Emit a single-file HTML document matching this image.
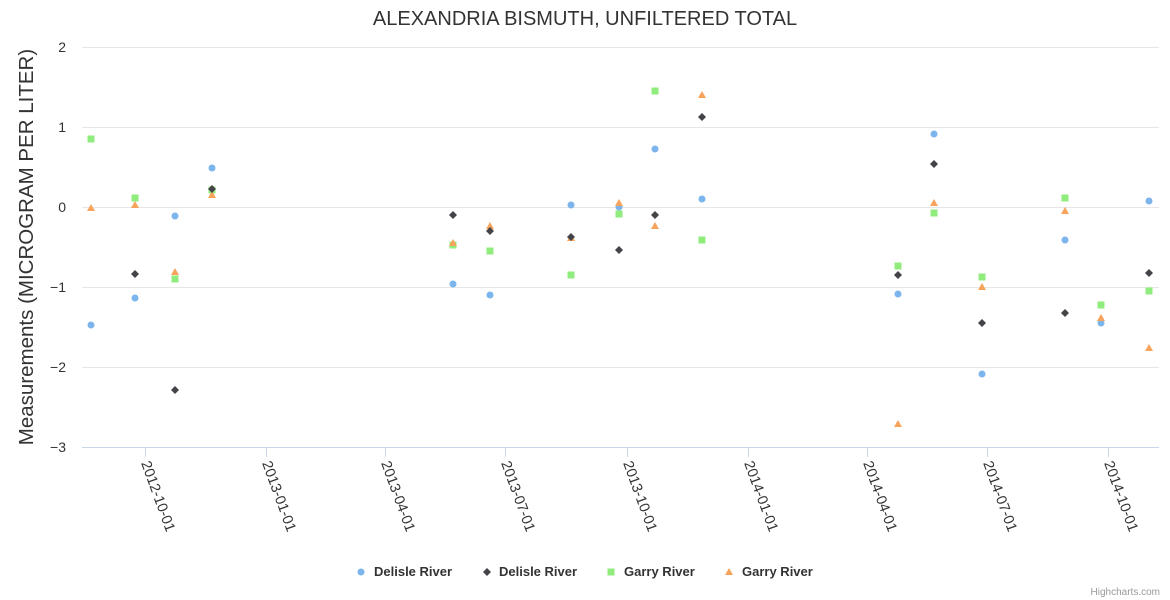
<!DOCTYPE html>
<html><head><meta charset="utf-8"><style>body{margin:0;background:#fff}svg{display:block;font-family:"Liberation Sans",sans-serif}</style></head><body>
<svg width="1170" height="600" viewBox="0 0 1170 600">
<text x="585" y="25" text-anchor="middle" font-size="20" fill="#333">ALEXANDRIA BISMUTH, UNFILTERED TOTAL</text>
<g stroke="#e6e6e6" stroke-width="1">
<line x1="82" y1="47.5" x2="1159" y2="47.5"/><line x1="82" y1="127.5" x2="1159" y2="127.5"/><line x1="82" y1="207.5" x2="1159" y2="207.5"/><line x1="82" y1="287.5" x2="1159" y2="287.5"/><line x1="82" y1="367.5" x2="1159" y2="367.5"/>
</g>
<line x1="82" y1="447.5" x2="1159" y2="447.5" stroke="#ccd6eb"/>
<g stroke="#ccd6eb"><line x1="145.5" y1="447" x2="145.5" y2="457"/><line x1="266.5" y1="447" x2="266.5" y2="457"/><line x1="385.5" y1="447" x2="385.5" y2="457"/><line x1="505.5" y1="447" x2="505.5" y2="457"/><line x1="627.5" y1="447" x2="627.5" y2="457"/><line x1="748.5" y1="447" x2="748.5" y2="457"/><line x1="867.5" y1="447" x2="867.5" y2="457"/><line x1="987.5" y1="447" x2="987.5" y2="457"/><line x1="1108.5" y1="447" x2="1108.5" y2="457"/></g>
<g font-size="14" fill="#333" text-anchor="end">
<text x="66" y="52">2</text><text x="66" y="132">1</text><text x="66" y="212">0</text><text x="66" y="292">−1</text><text x="66" y="372">−2</text><text x="66" y="452">−3</text>
</g>
<text transform="translate(33,247) rotate(-90)" text-anchor="middle" font-size="20.5" fill="#333">Measurements (MICROGRAM PER LITER)</text>
<g font-size="14.5" fill="#333">
<text transform="translate(141,463) rotate(70)">2012-10-01</text>
<text transform="translate(262,463) rotate(70)">2013-01-01</text>
<text transform="translate(381,463) rotate(70)">2013-04-01</text>
<text transform="translate(501,463) rotate(70)">2013-07-01</text>
<text transform="translate(623,463) rotate(70)">2013-10-01</text>
<text transform="translate(744,463) rotate(70)">2014-01-01</text>
<text transform="translate(863,463) rotate(70)">2014-04-01</text>
<text transform="translate(983,463) rotate(70)">2014-07-01</text>
<text transform="translate(1104,463) rotate(70)">2014-10-01</text>
</g>
<g fill="#7cb5ec">
<circle cx="91" cy="325" r="3.5"/><circle cx="135" cy="298" r="3.5"/><circle cx="175" cy="216" r="3.5"/><circle cx="212" cy="168" r="3.5"/><circle cx="453" cy="284" r="3.5"/><circle cx="490" cy="295" r="3.5"/><circle cx="571" cy="205" r="3.5"/><circle cx="619" cy="207" r="3.5"/><circle cx="655" cy="149" r="3.5"/><circle cx="702" cy="199" r="3.5"/><circle cx="898" cy="294" r="3.5"/><circle cx="934" cy="134" r="3.5"/><circle cx="982" cy="374" r="3.5"/><circle cx="1065" cy="240" r="3.5"/><circle cx="1101" cy="323" r="3.5"/><circle cx="1149" cy="201" r="3.5"/>
</g>
<g fill="#90ed7d">
<rect x="87.5" y="135.5" width="7" height="7"/><rect x="131.5" y="194.5" width="7" height="7"/><rect x="171.5" y="275.5" width="7" height="7"/><rect x="208.5" y="186.5" width="7" height="7"/><rect x="449.5" y="241.5" width="7" height="7"/><rect x="486.5" y="247.5" width="7" height="7"/><rect x="567.5" y="271.5" width="7" height="7"/><rect x="615.5" y="210.5" width="7" height="7"/><rect x="651.5" y="87.5" width="7" height="7"/><rect x="698.5" y="236.5" width="7" height="7"/><rect x="894.5" y="262.5" width="7" height="7"/><rect x="930.5" y="209.5" width="7" height="7"/><rect x="978.5" y="273.5" width="7" height="7"/><rect x="1061.5" y="194.5" width="7" height="7"/><rect x="1097.5" y="301.5" width="7" height="7"/><rect x="1145.5" y="287.5" width="7" height="7"/>
</g>
<g fill="#f7a35c">
<path d="M91 204l4 7h-8z"/><path d="M135 201l4 7h-8z"/><path d="M175 268l4 7h-8z"/><path d="M212 191l4 7h-8z"/><path d="M453 239l4 7h-8z"/><path d="M490 222l4 7h-8z"/><path d="M571 234l4 7h-8z"/><path d="M619 199l4 7h-8z"/><path d="M655 222l4 7h-8z"/><path d="M702 91l4 7h-8z"/><path d="M898 420l4 7h-8z"/><path d="M934 199l4 7h-8z"/><path d="M982 283l4 7h-8z"/><path d="M1065 207l4 7h-8z"/><path d="M1101 314l4 7h-8z"/><path d="M1149 344l4 7h-8z"/>
</g>
<g fill="#434348">
<path d="M135 270l4 4-4 4-4-4z"/><path d="M175 386l4 4-4 4-4-4z"/><path d="M212 185l4 4-4 4-4-4z"/><path d="M453 211l4 4-4 4-4-4z"/><path d="M490 227l4 4-4 4-4-4z"/><path d="M571 233l4 4-4 4-4-4z"/><path d="M619 246l4 4-4 4-4-4z"/><path d="M655 211l4 4-4 4-4-4z"/><path d="M702 113l4 4-4 4-4-4z"/><path d="M898 271l4 4-4 4-4-4z"/><path d="M934 160l4 4-4 4-4-4z"/><path d="M982 319l4 4-4 4-4-4z"/><path d="M1065 309l4 4-4 4-4-4z"/><path d="M1149 269l4 4-4 4-4-4z"/>
</g>
<g font-size="13" font-weight="bold" fill="#333">
<circle cx="361" cy="572" r="3.5" fill="#7cb5ec"/><text x="374" y="576">Delisle River</text>
<path d="M487 568l4 4-4 4-4-4z" fill="#434348"/><text x="499" y="576">Delisle River</text>
<rect x="607.5" y="568.5" width="7" height="7" fill="#90ed7d"/><text x="624" y="576">Garry River</text>
<path d="M729 568l4 7h-8z" fill="#f7a35c"/><text x="742" y="576">Garry River</text>
</g>
<text x="1160" y="595" text-anchor="end" font-size="10" fill="#999">Highcharts.com</text>
</svg>
</body></html>
